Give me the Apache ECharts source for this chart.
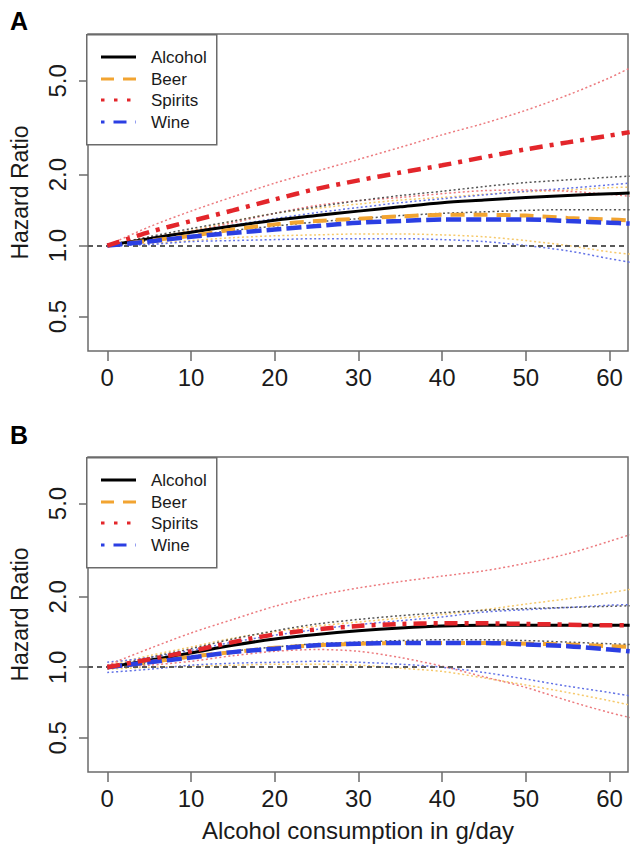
<!DOCTYPE html>
<html>
<head>
<meta charset="utf-8">
<script src="https://cdn.jsdelivr.net/npm/echarts@6/dist/echarts.min.js"></script>
<style>
html,body{margin:0;padding:0;background:#fff;}
#chart{width:633px;height:858px;}
</style>
</head>
<body>
<div id="chart"></div>
<script>
// ---- data ----
const xs = [0, 5, 10, 15, 20, 25, 30, 35, 40, 45, 50, 55, 60, 62.4];
const xTicks = [0, 10, 20, 30, 40, 50, 60];
const yTicks = [0.5, 1.0, 2.0, 5.0];
const refValue = 1.0;
const seriesNames = ['Alcohol', 'Beer', 'Spirits', 'Wine'];
const panelLabels = ['A', 'B'];
const xTitle = 'Alcohol consumption in g/day';
const yTitle = 'Hazard Ratio';

// Panel A
const alcoholA      = [1.00, 1.07, 1.14, 1.21, 1.28, 1.34, 1.40, 1.46, 1.52, 1.56, 1.60, 1.63, 1.66, 1.67];
const alcoholA_up   = [1.00, 1.09, 1.18, 1.27, 1.37, 1.46, 1.55, 1.63, 1.70, 1.78, 1.85, 1.90, 1.95, 1.97];
const alcoholA_lo   = [1.00, 1.05, 1.10, 1.16, 1.21, 1.26, 1.30, 1.34, 1.37, 1.39, 1.41, 1.42, 1.42, 1.42];
const beerA         = [1.00, 1.05, 1.10, 1.17, 1.23, 1.27, 1.30, 1.33, 1.35, 1.35, 1.34, 1.31, 1.29, 1.28];
const beerA_up      = [1.00, 1.08, 1.16, 1.27, 1.37, 1.44, 1.50, 1.56, 1.60, 1.65, 1.69, 1.72, 1.76, 1.77];
const beerA_lo      = [1.00, 1.02, 1.05, 1.08, 1.10, 1.11, 1.12, 1.12, 1.11, 1.09, 1.05, 1.00, 0.94, 0.92];
const spiritsA      = [1.00, 1.14, 1.27, 1.41, 1.57, 1.74, 1.89, 2.04, 2.19, 2.37, 2.56, 2.74, 2.93, 3.03];
const spiritsA_up   = [1.00, 1.20, 1.40, 1.61, 1.84, 2.07, 2.32, 2.61, 2.95, 3.30, 3.75, 4.35, 5.15, 5.66];
const spiritsA_lo   = [1.00, 1.08, 1.15, 1.25, 1.37, 1.48, 1.55, 1.60, 1.66, 1.71, 1.72, 1.70, 1.65, 1.62];
const wineA         = [1.00, 1.04, 1.09, 1.13, 1.17, 1.21, 1.25, 1.27, 1.29, 1.29, 1.29, 1.27, 1.25, 1.24];
const wineA_up      = [1.00, 1.07, 1.14, 1.22, 1.30, 1.38, 1.45, 1.52, 1.58, 1.64, 1.70, 1.75, 1.81, 1.84];
const wineA_lo      = [1.00, 1.01, 1.04, 1.05, 1.06, 1.07, 1.07, 1.07, 1.06, 1.04, 1.00, 0.95, 0.88, 0.85];

// Panel B
const alcoholB      = [1.00, 1.07, 1.15, 1.24, 1.32, 1.38, 1.43, 1.47, 1.50, 1.51, 1.51, 1.51, 1.51, 1.51];
const alcoholB_up   = [1.00, 1.10, 1.20, 1.32, 1.43, 1.53, 1.60, 1.66, 1.71, 1.75, 1.78, 1.80, 1.82, 1.83];
const alcoholB_lo   = [1.00, 1.04, 1.10, 1.17, 1.22, 1.26, 1.28, 1.30, 1.31, 1.31, 1.30, 1.28, 1.26, 1.25];
const beerB         = [1.00, 1.05, 1.11, 1.16, 1.21, 1.24, 1.26, 1.27, 1.27, 1.27, 1.26, 1.25, 1.23, 1.22];
const beerB_up      = [1.02, 1.12, 1.22, 1.33, 1.42, 1.50, 1.56, 1.62, 1.68, 1.76, 1.86, 1.96, 2.08, 2.15];
const beerB_lo      = [0.98, 1.00, 1.01, 1.02, 1.03, 1.03, 1.02, 0.99, 0.96, 0.90, 0.84, 0.78, 0.72, 0.69];
const spiritsB      = [1.00, 1.08, 1.17, 1.28, 1.38, 1.45, 1.50, 1.53, 1.54, 1.54, 1.53, 1.52, 1.51, 1.51];
const spiritsB_up   = [1.02, 1.20, 1.40, 1.60, 1.82, 2.02, 2.18, 2.32, 2.45, 2.58, 2.78, 3.05, 3.45, 3.68];
const spiritsB_lo   = [1.00, 1.02, 1.06, 1.12, 1.17, 1.19, 1.17, 1.10, 1.01, 0.91, 0.82, 0.72, 0.64, 0.61];
const wineB         = [1.00, 1.05, 1.10, 1.16, 1.20, 1.24, 1.26, 1.27, 1.27, 1.27, 1.25, 1.23, 1.19, 1.17];
const wineB_up      = [1.05, 1.10, 1.18, 1.28, 1.37, 1.45, 1.52, 1.58, 1.64, 1.72, 1.76, 1.80, 1.84, 1.85];
const wineB_lo      = [0.95, 0.98, 1.02, 1.04, 1.05, 1.06, 1.05, 1.03, 1.00, 0.95, 0.89, 0.83, 0.78, 0.755];

// ---- styles ----
const FONT = '"Liberation Sans", Arial, Helvetica, sans-serif';
const C = { alcohol: '#000000', beer: '#F2A431', spirits: '#E3262B', wine: '#2B3FE3', ref: '#5a5a5a', axis: '#6b6b6b' };
const CI = { alcohol: '#555555', beer: '#F6C96B', spirits: '#EC7A7E', wine: '#6272E6' };

const mainStyle = {
  alcohol: { color: C.alcohol, width: 3, type: 'solid' },
  beer:    { color: C.beer, width: 4, type: [14, 9] },
  spirits: { color: C.spirits, width: 4.5, type: [13, 7, 4, 7] },
  wine:    { color: C.wine, width: 4.5, type: [15, 5] }
};

function pts(ys) { return xs.map((x, i) => [x, ys[i]]); }

function line(name, g, ys, style, z) {
  return {
    name: name, type: 'line', xAxisIndex: g, yAxisIndex: g,
    data: pts(ys), smooth: 0.3, showSymbol: false, symbol: 'none',
    lineStyle: style, z: z, silent: true, animation: false
  };
}
function ciLine(name, g, ys, color) {
  return line(name, g, ys, { color: color, width: 1.5, type: [2, 2.5] }, 2);
}

const panels = [
  { a: alcoholA, au: alcoholA_up, al: alcoholA_lo, b: beerA, bu: beerA_up, bl: beerA_lo,
    s: spiritsA, su: spiritsA_up, sl: spiritsA_lo, w: wineA, wu: wineA_up, wl: wineA_lo },
  { a: alcoholB, au: alcoholB_up, al: alcoholB_lo, b: beerB, bu: beerB_up, bl: beerB_lo,
    s: spiritsB, su: spiritsB_up, sl: spiritsB_lo, w: wineB, wu: wineB_up, wl: wineB_lo }
];

const series = [];
panels.forEach((p, g) => {
  series.push(ciLine('beer CI up', g, p.bu, CI.beer));
  series.push(ciLine('beer CI lo', g, p.bl, CI.beer));
  series.push(ciLine('wine CI up', g, p.wu, CI.wine));
  series.push(ciLine('wine CI lo', g, p.wl, CI.wine));
  series.push(ciLine('spirits CI up', g, p.su, CI.spirits));
  series.push(ciLine('spirits CI lo', g, p.sl, CI.spirits));
  series.push(ciLine('alcohol CI up', g, p.au, CI.alcohol));
  series.push(ciLine('alcohol CI lo', g, p.al, CI.alcohol));
  const ref = line('ref', g, p.a, { opacity: 0 }, 1);
  ref.markLine = {
    silent: true, symbol: 'none', label: { show: false }, animation: false,
    lineStyle: { color: C.ref, width: 2.2, type: [5, 4] },
    data: [{ yAxis: refValue }]
  };
  series.push(ref);
  series.push(line(seriesNames[0], g, p.a, mainStyle.alcohol, 5));
  series.push(line(seriesNames[1], g, p.b, mainStyle.beer, 6));
  series.push(line(seriesNames[3], g, p.w, mainStyle.wine, 7));
  series.push(line(seriesNames[2], g, p.s, mainStyle.spirits, 8));
});

const grids = [
  { left: 86, right: 5, top: 34, height: 317 },
  { left: 86, right: 5, top: 457, height: 315 }
].map(g => Object.assign(g, { show: true, borderColor: C.axis, borderWidth: 1.5, backgroundColor: 'transparent', containLabel: false }));

function xAxis(g, withName) {
  return {
    type: 'value', gridIndex: g, min: -2.3, max: 62.2,
    name: withName ? xTitle : '', nameLocation: 'middle', nameGap: 46,
    nameTextStyle: { fontFamily: FONT, fontSize: 24, color: '#1a1a1a' },
    axisLine: { show: false, onZero: false },
    splitLine: { show: false },
    axisTick: { show: true, length: 10, inside: false, customValues: xTicks, lineStyle: { color: C.axis, width: 1.5 } },
    axisLabel: { show: true, customValues: xTicks, margin: 14, fontFamily: FONT, fontSize: 24, color: '#1a1a1a' }
  };
}
function yAxis(g) {
  return {
    type: 'log', logBase: 10, gridIndex: g, min: 0.357, max: 7.9,
    name: yTitle, nameLocation: 'middle', nameGap: 57, nameRotate: 90,
    nameTextStyle: { fontFamily: FONT, fontSize: 23, color: '#1a1a1a' },
    axisLine: { show: false, onZero: false },
    splitLine: { show: false },
    minorTick: { show: false }, minorSplitLine: { show: false },
    axisTick: { show: true, length: 9, inside: false, customValues: yTicks, lineStyle: { color: C.axis, width: 1.5 } },
    axisLabel: { show: true, customValues: yTicks, rotate: 90, margin: 19, fontFamily: FONT, fontSize: 24, color: '#1a1a1a',
      formatter: v => Number(v).toFixed(1) }
  };
}

// legend graphics (decoration)
function legendGraphic(top) {
  const els = [];
  els.push({ type: 'rect', left: 86, top: top, z: 100,
    shape: { width: 130, height: 110 },
    style: { fill: '#fff', stroke: C.axis, lineWidth: 1.5 } });
  const rows = [23, 45, 66, 88];
  const styles = [
    { stroke: C.alcohol, lineWidth: 3, lineDash: null },
    { stroke: C.beer, lineWidth: 3, lineDash: [13, 9] },
    { stroke: C.spirits, lineWidth: 3, lineDash: [3.5, 9.5] },
    { stroke: C.wine, lineWidth: 3, lineDash: [3.5, 9, 13, 9] }
  ];
  seriesNames.forEach((n, i) => {
    const y = top + rows[i];
    els.push({ type: 'line', z: 101, shape: { x1: 101, y1: y, x2: 136, y2: y },
      style: Object.assign({ lineCap: 'butt' }, styles[i]) });
    els.push({ type: 'text', z: 101, x: 151, y: y,
      style: { text: n, fontFamily: FONT, fontSize: 17, fill: '#1a1a1a', textVerticalAlign: 'middle', verticalAlign: 'middle' } });
  });
  return els;
}

const option = {
  backgroundColor: '#fff',
  animation: false,
  title: [
    { text: panelLabels[0], left: 5, top: 3, textStyle: { fontFamily: FONT, fontSize: 25, fontWeight: 'bold', color: '#000' } },
    { text: panelLabels[1], left: 5, top: 417, textStyle: { fontFamily: FONT, fontSize: 25, fontWeight: 'bold', color: '#000' } }
  ],
  grid: grids,
  xAxis: [xAxis(0, false), xAxis(1, true)],
  yAxis: [yAxis(0), yAxis(1)],
  series: series,
  graphic: legendGraphic(34).concat(legendGraphic(457))
};

const chart = echarts.init(document.getElementById('chart'), null, { renderer: 'svg', width: 633, height: 858 });
chart.setOption(option);
</script>
</body>
</html>
